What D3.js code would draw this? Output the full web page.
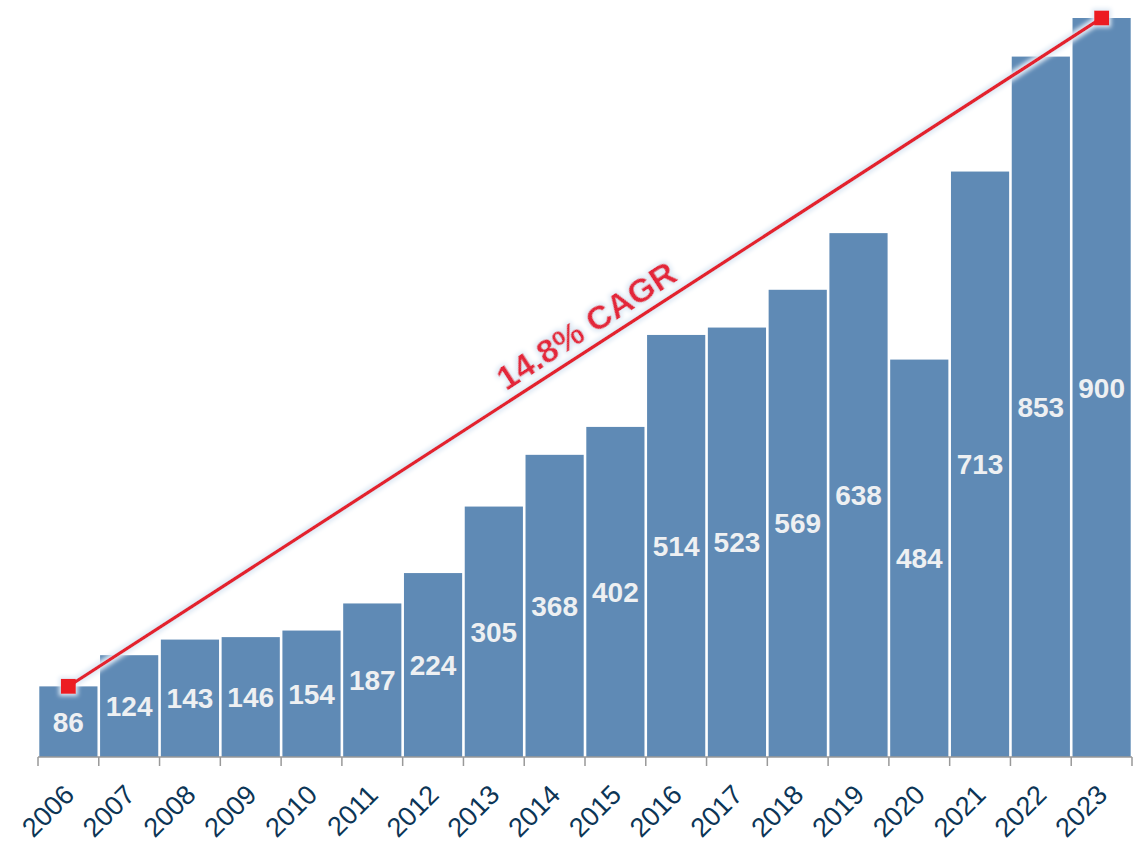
<!DOCTYPE html>
<html><head><meta charset="utf-8">
<script src="https://cdn.jsdelivr.net/npm/d3@7"></script>
<style>body{margin:0;background:#fff}svg{display:block}</style>
</head><body>
<svg id="c" width="1147" height="842"></svg>
<script>
const years = ["2006","2007","2008","2009","2010","2011","2012","2013","2014","2015","2016","2017","2018","2019","2020","2021","2022","2023"];
const values = [86,124,143,146,154,187,224,305,368,402,514,523,569,638,484,713,853,900];
const cagrLabel = "14.8% CAGR";

const svg = d3.select("#c");
const xb = d3.scaleBand().domain(years).range([38, 1132]);
const y = d3.scaleLinear().domain([0, 900]).range([757, 18]);

const defs = svg.append("defs");
const f = defs.append("filter").attr("id","glow").attr("x","-20%").attr("y","-20%").attr("width","140%").attr("height","140%");
f.append("feMorphology").attr("in","SourceAlpha").attr("operator","dilate").attr("radius",2).attr("result","d");
f.append("feGaussianBlur").attr("in","d").attr("stdDeviation",2).attr("result","b");
f.append("feFlood").attr("flood-color","#dfeaf5").attr("result","c");
f.append("feComposite").attr("in","c").attr("in2","b").attr("operator","in").attr("result","g");
const m = f.append("feMerge"); m.append("feMergeNode").attr("in","g"); m.append("feMergeNode").attr("in","SourceGraphic");

svg.selectAll("rect.bar").data(years).join("rect").attr("class","bar")
  .attr("x", d => xb(d) + 1.3).attr("width", xb.bandwidth() - 2.6)
  .attr("y", (d,i) => y(values[i])).attr("height", (d,i) => y(0) - y(values[i]))
  .attr("fill", "#5f8ab5");

svg.selectAll("text.val").data(years).join("text").attr("class","val")
  .attr("x", d => xb(d) + xb.bandwidth()/2)
  .attr("y", (d,i) => (y(values[i]) + y(0))/2)
  .attr("dy", "0.36em").attr("text-anchor","middle")
  .attr("font-family","Liberation Sans, Arial, sans-serif").attr("font-weight","bold")
  .attr("font-size", 28).attr("fill","#eef0f2")
  .text((d,i) => values[i]);

// axis
const ax = svg.append("g");
ax.append("line").attr("x1",38).attr("x2",1132).attr("y1",757).attr("y2",757).attr("stroke","#999").attr("stroke-width",1.5);
const edges = years.map(d => xb(d)).concat([xb(years[years.length-1]) + xb.bandwidth()]);
ax.selectAll("line.tick").data(edges).join("line").attr("class","tick")
  .attr("x1", d=>d).attr("x2", d=>d).attr("y1",757).attr("y2",766).attr("stroke","#999").attr("stroke-width",1.5);
ax.selectAll("text.yr").data(years).join("text").attr("class","yr")
  .attr("transform", d => `translate(${xb(d) + xb.bandwidth()/2 - 6},${783}) rotate(-45)`)
  .attr("text-anchor","end").attr("dy","0.7em")
  .attr("font-family","Liberation Sans, Arial, sans-serif").attr("font-size",27).attr("fill","#0c3556")
  .text(d => d);

// CAGR line
const x0 = xb(years[0]) + xb.bandwidth()/2, y0 = y(values[0]);
const n = years.length - 1;
const x1 = xb(years[n]) + xb.bandwidth()/2, y1 = y(values[n]);
const g = svg.append("g").attr("filter","url(#glow)");
g.append("line").attr("x1",x0).attr("y1",y0).attr("x2",x1).attr("y2",y1).attr("stroke","#e3202e").attr("stroke-width",3.5);
g.selectAll("rect.pt").data([[x0,y0],[x1,y1]]).join("rect").attr("class","pt")
  .attr("x", d=>d[0]-7.5).attr("y", d=>d[1]-7.5).attr("width",15).attr("height",15).attr("fill","#ec1c24");
const ang = Math.atan2(y1-y0, x1-x0) * 180/Math.PI;
const tx = 598, ty = y0 + (tx - x0) * (y1-y0)/(x1-x0);
svg.append("text").attr("filter","url(#glow)")
  .attr("transform", `translate(${tx},${ty}) rotate(${ang}) translate(0,-10)`)
  .attr("text-anchor","middle")
  .attr("font-family","Liberation Sans, Arial, sans-serif").attr("font-weight","bold")
  .attr("font-size",34).attr("fill","#e3263a")
  .text(cagrLabel);
</script>
</body></html>
